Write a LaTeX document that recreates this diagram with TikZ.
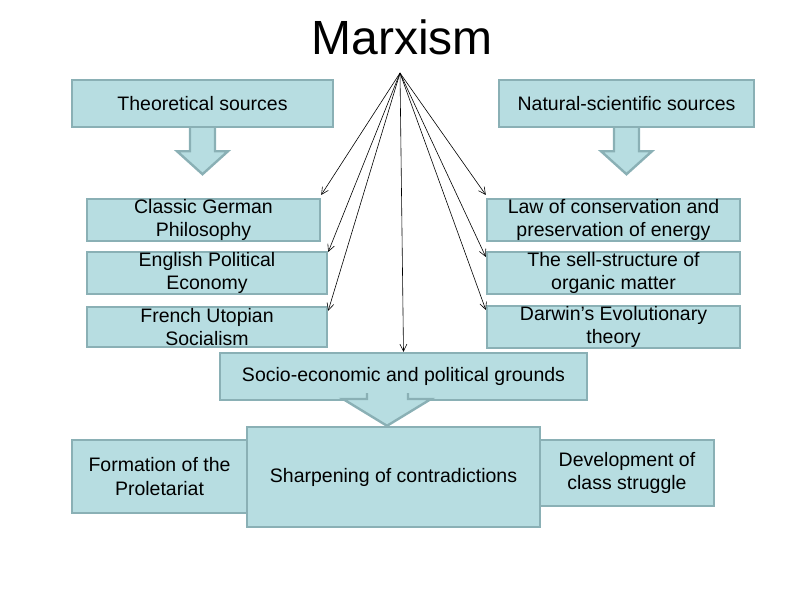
\documentclass[tikz,border=0pt]{standalone}
\usepackage{fontspec}
\setmainfont{Liberation Sans}
\usepackage{xcolor}
\usetikzlibrary{arrows.meta,calc,positioning}

\definecolor{boxfill}{RGB}{183,221,225}
\definecolor{boxline}{RGB}{138,176,181}

\tikzset{
  srcbox/.style={draw=boxline, fill=boxfill, line width=2.4pt, inner sep=0pt,
    align=center, font=\fontsize{19.5}{23.5}\selectfont},
  blockarrow/.style={draw=boxline, fill=boxfill, line width=2.4pt, line join=miter},
  link/.style={-{Straight Barb[length=7pt,width=7pt]}, line width=0.6pt}
}

\begin{document}
\begin{tikzpicture}[x=1pt, y=-1pt]
  \useasboundingbox (0,0) rectangle (800,600);

  % title and the point the links leave from
  \node[font=\fontsize{48}{54}\selectfont, anchor=base] (title) at (402,54) {Marxism};
  \coordinate (apex) at (400,73);

  % two kinds of sources
  \node[srcbox, minimum width=261pt, minimum height=47pt] (theo) at (202.5,103.5)
    {Theoretical sources};
  \node[srcbox, minimum width=255pt, minimum height=47pt] (nat) at (626.5,103.5)
    {Natural-scientific sources};

  % block arrows under them
  \draw[blockarrow] ($(theo.south)+(-12.5,0)$) -- ++(0,23) -- ++(-13,0)
    -- ++(25.5,23) -- ++(25.5,-23) -- ++(-13,0) -- ++(0,-23);
  \draw[blockarrow] ($(nat.south)+(-12.5,0)$) -- ++(0,23) -- ++(-13,0)
    -- ++(25.5,23) -- ++(25.5,-23) -- ++(-13,0) -- ++(0,-23);

  % theoretical side
  \node[srcbox, minimum width=233pt, minimum height=40pt] (cgp) at (203.5,220)
    {Classic German\\Philosophy};
  \node[srcbox, minimum width=240pt, minimum height=40pt] (epe) at (207,273)
    {English Political\\Economy};
  \node[srcbox, minimum width=240pt, minimum height=40pt] (fus) at (207,327)
    {French Utopian\\Socialism};

  % natural-scientific side
  \node[srcbox, minimum width=253pt, minimum height=40pt] (law) at (613.5,220)
    {Law of conservation and\\preservation of energy};
  \node[srcbox, minimum width=253pt, minimum height=40pt] (sell) at (613.5,273)
    {The sell-structure of\\organic matter};
  \node[srcbox, minimum width=253pt, minimum height=40pt] (darw) at (613.5,327)
    {Darwin’s Evolutionary\\theory};

  % grounds
  \node[srcbox, minimum width=367pt, minimum height=47pt] (socio) at (403.5,376.5)
    {Socio-economic and political grounds};

  % links from the title
  \draw[link] (apex) -- ([yshift=3pt]cgp.north east);
  \draw[link] (apex) -- ([yshift=-1pt]epe.north east);
  \draw[link] (apex) -- ([yshift=-5pt]fus.north east);
  \draw[link] (apex) -- (socio.north);
  \draw[link] (apex) -- ([yshift=3pt]law.north west);
  \draw[link] (apex) -- ([yshift=-6pt]sell.north west);
  \draw[link] (apex) -- ([yshift=-5pt]darw.north west);

  % bottom row
  \node[srcbox, minimum width=175pt, minimum height=73pt] (form) at (159.5,476.5)
    {Formation of the\\Proletariat};
  \node[srcbox, minimum width=174pt, minimum height=66pt] (dev) at (627,473)
    {Development of\\class struggle};
  \node[srcbox, minimum width=293pt, minimum height=100pt] (sharp) at (393.5,477)
    {Sharpening of contradictions};

  % block arrow into the middle box
  \draw[blockarrow] (367,393) -- (367,399) -- (343,399) -- (sharp.north -| 387,0)
    -- (431,399) -- (408,399) -- (408,393);
\end{tikzpicture}
\end{document}
